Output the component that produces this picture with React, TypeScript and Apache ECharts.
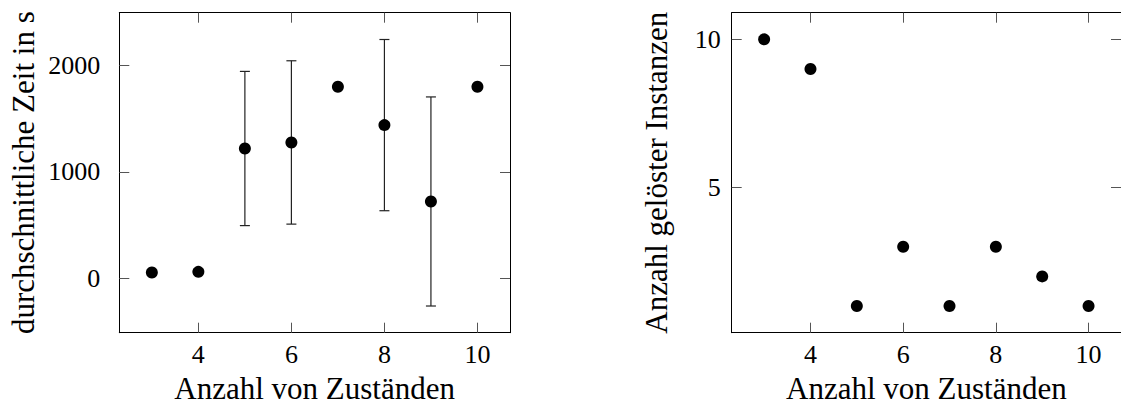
import React, { useEffect, useRef } from "react";
import * as echarts from "echarts";

// ---- data ----
const states = [3, 4, 5, 6, 7, 8, 9, 10];
const avgTime = [53, 59, 1219, 1276, 1800, 1439, 721, 1800];
const timeErr = [0, 0, 725, 768, 0, 805, 983, 0];
const solved = [10, 9, 1, 3, 1, 3, 2, 1];
const xTicks = [4, 6, 8, 10];
const timeTicks = [0, 1000, 2000];
const solvedTicks = [5, 10];
const xTitle = "Anzahl von Zuständen";
const timeTitle = "durchschnittliche Zeit in s";
const solvedTitle = "Anzahl gelöster Instanzen";

const X_MIN = 2.3;
const X_MAX = 10.7;
const T_MIN = -513;
const T_MAX = 2496;
const S_MIN = 0.1;
const S_MAX = 10.9;

const FONT = "Liberation Serif";
const LINE = { show: true, onZero: false, lineStyle: { color: "#000", width: 1 } };
const TICK = (vals: number[]) => ({
  show: true,
  inside: true,
  length: 10,
  customValues: vals,
  lineStyle: { color: "#555", width: 1 },
});
const LABEL = (vals: number[], margin: number) => ({
  show: true,
  customValues: vals,
  margin,
  fontFamily: FONT,
  fontSize: 26,
  color: "#000",
  formatter: (v: number) => String(v),
});
const NAME_STYLE = { fontFamily: FONT, fontSize: 31, color: "#000" };

export default function App() {
  const ref = useRef<HTMLDivElement>(null);
  useEffect(() => {
    if (!ref.current) return;
    const chart = echarts.init(ref.current, undefined, { renderer: "svg" });

    const mkX = (grid: number, pos: "top" | "bottom", withLabels: boolean) => ({
      type: "value",
      gridIndex: grid,
      position: pos,
      min: X_MIN,
      max: X_MAX,
      splitLine: { show: false },
      axisLine: LINE,
      axisTick: TICK(xTicks),
      axisLabel: withLabels ? LABEL(xTicks, 9) : { show: false },
      name: withLabels ? xTitle : "",
      nameLocation: "middle",
      nameGap: 40,
      nameTextStyle: NAME_STYLE,
    });
    const mkY = (
      grid: number,
      pos: "left" | "right",
      min: number,
      max: number,
      ticks: number[],
      withLabels: boolean,
      title: string,
      gap: number,
      labelMargin: number
    ) => ({
      type: "value",
      gridIndex: grid,
      position: pos,
      min,
      max,
      splitLine: { show: false },
      axisLine: LINE,
      axisTick: TICK(ticks),
      axisLabel: withLabels ? LABEL(ticks, labelMargin) : { show: false },
      name: withLabels ? title : "",
      nameLocation: "middle",
      nameGap: gap,
      nameTextStyle: NAME_STYLE,
    });

    const option: any = {
      animation: false,
      backgroundColor: "#fff",
      grid: [
        { left: 119.3, top: 12.7, width: 390.7, height: 320 },
        { left: 731.7, top: 12.7, width: 390.3, height: 320 },
      ],
      xAxis: [
        mkX(0, "bottom", true),
        mkX(0, "top", false),
        mkX(1, "bottom", true),
        mkX(1, "top", false),
      ],
      yAxis: [
        mkY(0, "left", T_MIN, T_MAX, timeTicks, true, timeTitle, 80, 19),
        mkY(0, "right", T_MIN, T_MAX, timeTicks, false, "", 0, 0),
        mkY(1, "left", S_MIN, S_MAX, solvedTicks, true, solvedTitle, 60, 11),
        mkY(1, "right", S_MIN, S_MAX, solvedTicks, false, "", 0, 0),
      ],
      series: [
        {
          type: "custom",
          xAxisIndex: 0,
          yAxisIndex: 0,
          encode: { x: 0, y: 1 },
          data: states.map((x, i) => [x, avgTime[i], timeErr[i]]),
          z: 2,
          renderItem: (_params: any, api: any) => {
            const x = api.value(0);
            const m = api.value(1);
            const e = api.value(2);
            if (!e) return { type: "group", children: [] };
            const top = api.coord([x, m + e]);
            const bot = api.coord([x, m - e]);
            const hw = 5;
            const style = { stroke: "#222", lineWidth: 1.2 };
            return {
              type: "group",
              children: [
                { type: "line", shape: { x1: top[0], y1: top[1], x2: bot[0], y2: bot[1] }, style },
                { type: "line", shape: { x1: top[0] - hw, y1: top[1], x2: top[0] + hw, y2: top[1] }, style },
                { type: "line", shape: { x1: bot[0] - hw, y1: bot[1], x2: bot[0] + hw, y2: bot[1] }, style },
              ],
            };
          },
        },
        {
          type: "scatter",
          xAxisIndex: 0,
          yAxisIndex: 0,
          symbol: "circle",
          symbolSize: 12,
          itemStyle: { color: "#000", opacity: 1 },
          z: 3,
          data: states.map((x, i) => [x, avgTime[i]]),
        },
        {
          type: "scatter",
          xAxisIndex: 2,
          yAxisIndex: 2,
          symbol: "circle",
          symbolSize: 12,
          itemStyle: { color: "#000", opacity: 1 },
          z: 3,
          data: states.map((x, i) => [x, solved[i]]),
        },
      ],
    };
    chart.setOption(option);
    return () => chart.dispose();
  }, []);
  return (
    <div
      ref={ref}
      style={{ position: "fixed", left: 0, top: 0, width: 1121, height: 410, background: "#fff" }}
    />
  );
}
